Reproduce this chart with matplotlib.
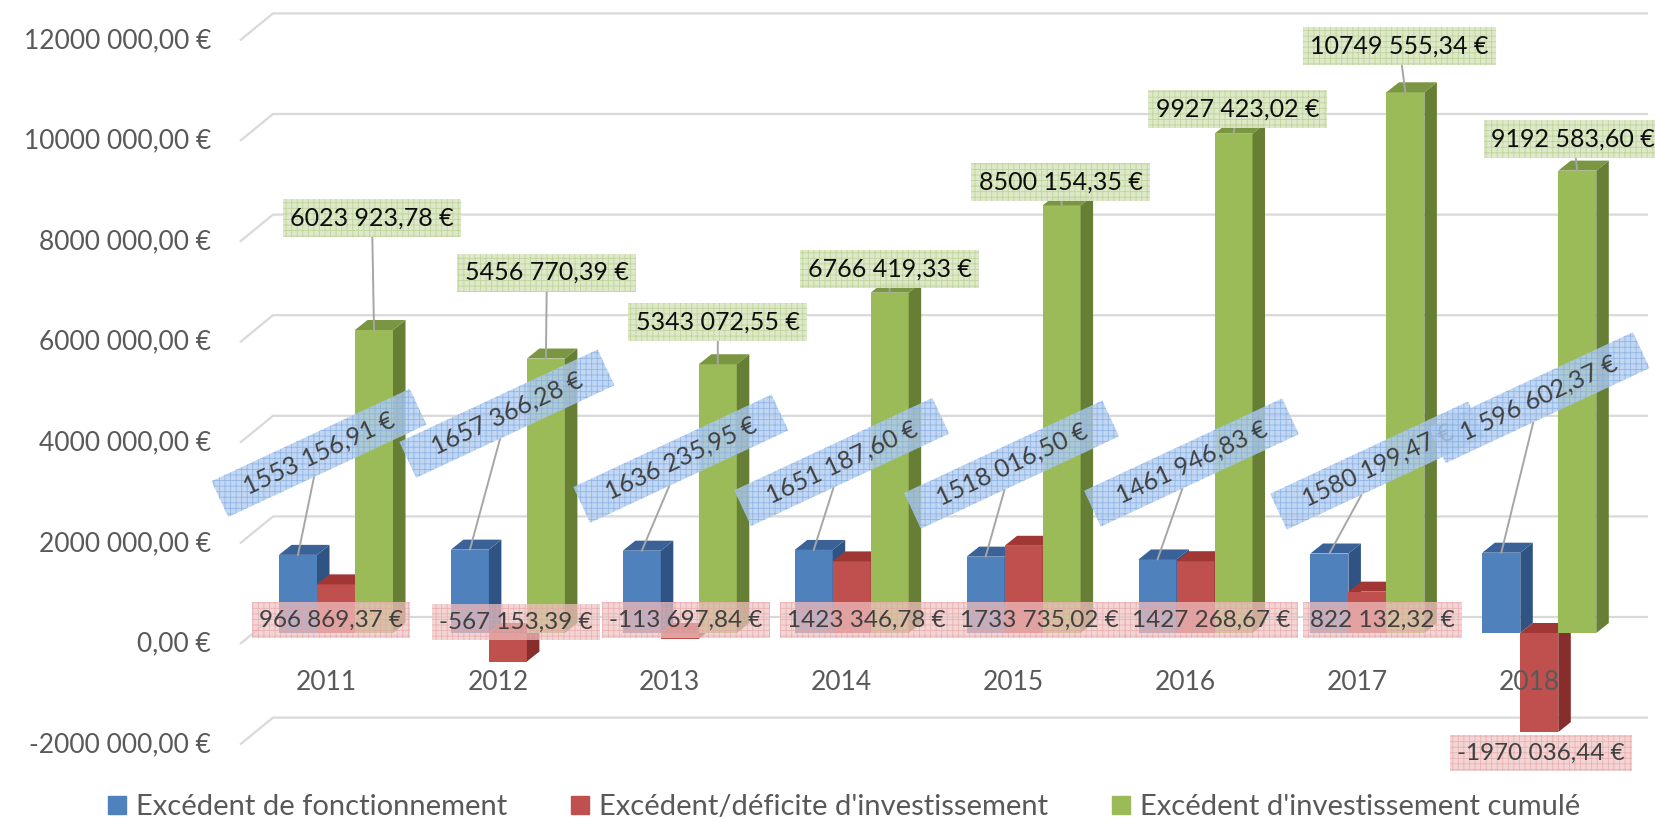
import numpy as np
import matplotlib
matplotlib.use("Agg")
import matplotlib.pyplot as plt
from matplotlib.patches import Polygon, Patch

plt.rcParams['font.family'] = ['Lato', 'DejaVu Sans']
plt.rcParams['hatch.linewidth'] = 0.6

years = ["2011", "2012", "2013", "2014", "2015", "2016", "2017", "2018"]
fonct = [1553156.91, 1657366.28, 1636235.95, 1651187.60, 1518016.50, 1461946.83, 1580199.47, 1596602.37]
invest = [966869.37, -567153.39, -113697.84, 1423346.78, 1733735.02, 1427268.67, 822132.32, -1970036.44]
cumul = [6023923.78, 5456770.39, 5343072.55, 6766419.33, 8500154.35, 9927423.02, 10749555.34, 9192583.60]
series_names = ["Excédent de fonctionnement", "Excédent/déficite d'investissement",
                "Excédent d'investissement cumulé"]
yticks = [-2000000, 0, 2000000, 4000000, 6000000, 8000000, 10000000, 12000000]


def euro(v):
    # excel style: only the last group separated
    s = "%.2f" % abs(v)
    ent, dec = s.split(".")
    if len(ent) > 3:
        ent = ent[:-3] + " " + ent[-3:]
    return ("-" if v < 0 else "") + ent + "," + dec + " €"


fonct_lbl = [euro(v) for v in fonct]
fonct_lbl[7] = "1 596 602,37 €"

# layout (pixels, figure is 1655x818 at dpi 100)
PXX = 171.9          # px per category
PXY = 50.3e-6        # px per euro
w = 38 / PXX         # bar width
ddx = 12.5 / PXX     # depth offset
ddy = 10 / PXY

# label offsets in pixels
blue_off = [(21, 102), (37, 136), (39, 92), (28, 88), (26, 92), (34, 97), (48, 88), (38, 155)]
green_off = [(-2, 112), (1, 86), (0, 42), (0, 24), (-1, 23), (4, 25), (-6, 46), (-4, 32)]
red_off = [(-5, 13), (8, 11), (6, 13), (15, 13), (16, 13), (16, 13), (15, 13), (2, -21)]

cols = {
    "blue": ("#4f81bd", "#2f5382", "#3a6298"),
    "red": ("#c0504d", "#872d2b", "#a03734"),
    "green": ("#9bbb59", "#667f34", "#7a9642"),
}

fig = plt.figure(figsize=(16.55, 8.18), dpi=100)
ax = fig.add_axes([0, 0, 1, 1])
ax.set_xlim(-336 / PXX, (1655 - 336) / PXX)
ax.set_ylim(-(818 - 633) / PXY, 633 / PXY)
ax.axis("off")

# back wall gridlines + left wall slant
for t in yticks:
    yb = t + 16 / PXY
    ax.plot([(240 - 336) / PXX, (273 - 336) / PXX, (1648 - 336) / PXX],
            [t - 11 / PXY, yb, yb], color="#d9d9d9", lw=1.6, zorder=1,
            solid_capstyle="butt")
    ax.annotate(euro(t), xy=((211 - 336) / PXX, t), xytext=(0, -11),
                textcoords="offset pixels", ha="right", va="center",
                fontsize=19, color="#595959")


def bar3d(x0, v, c):
    front, side, top = c
    ax.bar(x0, v, width=w, align="edge", color=front, zorder=3, lw=0)
    ax.add_patch(Polygon([(x0 + w, 0), (x0 + w + ddx, ddy), (x0 + w + ddx, v + ddy), (x0 + w, v)],
                         closed=True, fc=side, lw=0, zorder=3))
    ytop = max(v, 0)
    ax.add_patch(Polygon([(x0, ytop), (x0 + ddx, ytop + ddy), (x0 + w + ddx, ytop + ddy), (x0 + w, ytop)],
                         closed=True, fc=top, lw=0, zorder=3))


x = np.arange(len(years))
for i in x:
    bar3d(i - 1.5 * w, fonct[i], cols["blue"])
    bar3d(i - 0.5 * w, invest[i], cols["red"])
    bar3d(i + 0.5 * w, cumul[i], cols["green"])
    ax.annotate(years[i], xy=(i - 10 / PXX, -49 / PXY), ha="center", va="center",
                fontsize=19, color="#595959")

lead = dict(arrowstyle="-", color="#a6a6a6", lw=1.4, shrinkA=0, shrinkB=0)
pad = "   "

for i in x:
    # blue, rotated
    ax.annotate(pad + fonct_lbl[i] + pad, xy=(i - w, fonct[i]), xytext=blue_off[i],
                textcoords="offset pixels", ha="center", va="center",
                rotation=25, rotation_mode="anchor", fontsize=18, color="#404040",
                bbox=dict(boxstyle="square,pad=0.33", fc="#b2cdf0", ec="#86aee2",
                          hatch="+++", lw=0, alpha=0.8),
                arrowprops=lead, zorder=6)
    # green
    ax.annotate(euro(cumul[i]), xy=(i + w, cumul[i]), xytext=green_off[i],
                textcoords="offset pixels", ha="center", va="center",
                fontsize=18, color="#0d0d0d",
                bbox=dict(boxstyle="square,pad=0.3", fc="#dce8c6", ec="#bfd39a",
                          hatch="+++", lw=0, alpha=0.95),
                arrowprops=lead, zorder=6)
    # red, at base
    base = invest[i] if invest[i] < -1500000 else 0
    ax.annotate(euro(invest[i]), xy=(i, base), xytext=red_off[i],
                textcoords="offset pixels", ha="center", va="center",
                fontsize=17.5, color="#404040",
                bbox=dict(boxstyle="square,pad=0.3", fc="#f0c4c4", ec="#e5a3a3",
                          hatch="+++", lw=0, alpha=0.7),
                zorder=6)

handles = [Patch(color=cols[k][0]) for k in ("blue", "red", "green")]
fig.legend(handles, series_names, loc="lower center", ncol=3, frameon=False,
           fontsize=21, handlelength=0.6, handleheight=0.6, handletextpad=0.35,
           columnspacing=2.2, bbox_to_anchor=(0.51, -0.028), labelcolor="#595959",
           borderpad=0.2)

fig.savefig("out.png", dpi=100)
